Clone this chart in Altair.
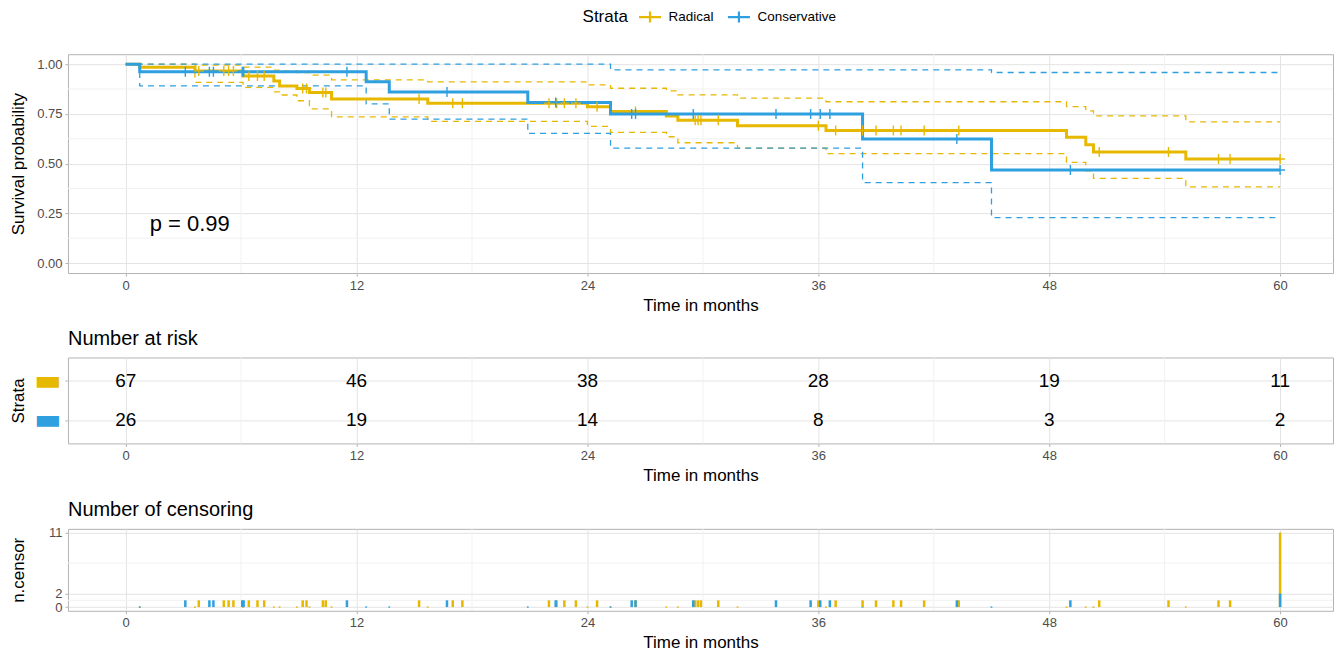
import altair as alt
import numpy as np
import pandas as pd

# ---------------- data ----------------
strata_names = ["Radical", "Conservative"]
strata_colors = ["#E7B800", "#2E9FDF"]

# Radical: step times and survival / confidence limits after each step
rad_time = [0, 0.73, 3.6, 6.1, 7.7, 8.0, 8.9, 9.55, 10.7, 15.7, 24.0, 25.2, 28.1, 28.7, 31.8, 36.4, 48.9, 49.9, 50.3, 55.1, 60]
rad_surv = [1.0, 0.985, 0.966, 0.94, 0.915, 0.89, 0.878, 0.858, 0.825, 0.804, 0.786, 0.762, 0.74, 0.718, 0.69, 0.666, 0.632, 0.595, 0.559, 0.523, 0.523]
rad_lower = [1.0, 0.961, 0.908, 0.883, 0.861, 0.845, 0.816, 0.775, 0.735, 0.712, 0.687, 0.657, 0.635, 0.605, 0.578, 0.55, 0.506, 0.464, 0.426, 0.383, 0.383]
rad_upper = [1.0, 1.0, 0.995, 0.985, 0.97, 0.965, 0.958, 0.945, 0.921, 0.911, 0.896, 0.879, 0.866, 0.846, 0.829, 0.811, 0.787, 0.765, 0.74, 0.71, 0.71]

# Conservative
con_time = [0, 0.73, 12.5, 13.7, 20.9, 25.2, 38.3, 45.0, 60]
con_surv = [1.0, 0.962, 0.911, 0.86, 0.807, 0.749, 0.624, 0.468, 0.468]
con_lower = [1.0, 0.891, 0.80, 0.724, 0.652, 0.578, 0.405, 0.229, 0.229]
con_upper = [1.0, 1.0, 1.0, 1.0, 1.0, 0.971, 0.971, 0.958, 0.958]

# censoring times and counts
rad_cens_time = [3.8, 5.1, 5.35, 5.6, 6.4, 6.85, 7.2, 9.2, 9.4, 10.25, 10.4, 15.25, 17.0, 17.5,
                 22.0, 22.4, 22.8, 23.4, 24.5, 26.5, 29.6, 29.75, 29.9, 30.8, 36.0, 36.9, 38.3,
                 39.0, 39.9, 40.3, 41.5, 43.3, 50.6, 54.2, 56.8, 57.4, 60]
rad_cens_n = [1, 1, 1, 1, 1, 1, 1, 1, 1, 1, 1, 1, 1, 1,
              1, 1, 1, 1, 1, 1, 1, 1, 1, 1, 1, 1, 1,
              1, 1, 1, 1, 1, 1, 1, 1, 1, 11]
con_cens_time = [3.1, 4.35, 4.56, 6.06, 6.13, 11.5, 16.7, 22.35, 26.3, 26.5, 29.5, 33.8, 35.6, 36.1, 36.6, 43.2, 49.1, 60]
con_cens_n = [1, 1, 1, 1, 1, 1, 1, 1, 1, 1, 1, 1, 1, 1, 1, 1, 1, 2]

# number at risk table
risk_times = [0, 12, 24, 36, 48, 60]
risk_rad = [67, 46, 38, 28, 19, 11]
risk_con = [26, 19, 14, 8, 3, 2]

pval_label = "p = 0.99"

x_major = [0, 12, 24, 36, 48, 60]
x_minor = [6, 18, 30, 42, 54]
y_major = [0, 0.25, 0.5, 0.75, 1.0]
y_minor = [0.125, 0.375, 0.625, 0.875]
c_major = [0, 2, 11]
c_minor = [1, 6.5]

# ---------------- styling ----------------
FONT = "Liberation Sans"
MAJOR = "#e3e3e3"
MINOR = "#f1f1f1"
BORDER = "#b3b3b3"
LAB = "#4d4d4d"
W = 1266

xscale = alt.Scale(domain=[-3, 62.75], nice=False, zero=False)
yscale = alt.Scale(domain=[-0.05, 1.05], nice=False, zero=False)
cyscale = alt.Scale(domain=[-0.55, 11.55], nice=False, zero=False)
cscale = alt.Scale(domain=strata_names, range=strata_colors)


def x_axis():
    return alt.Axis(values=x_major, title="Time in months", grid=True, gridColor=MAJOR, gridWidth=1,
                    domain=False, tickColor=BORDER, tickSize=3, labelFont=FONT, labelFontSize=13,
                    labelColor=LAB, labelPadding=3, titleFont=FONT, titleFontSize=17,
                    titleFontWeight="normal", titleColor="black", titlePadding=5)


def y_axis(values, title, **kw):
    args = dict(values=values, title=title, grid=True, gridColor=MAJOR, gridWidth=1, domain=False,
                tickColor=BORDER, tickSize=3, labelFont=FONT, labelFontSize=13, labelColor=LAB,
                labelPadding=3, titleFont=FONT, titleFontSize=17, titleFontWeight="normal",
                titleColor="black", titlePadding=9, minExtent=31, maxExtent=31)
    args.update(kw)
    return alt.Axis(**args)


legend = alt.Legend(orient="none", legendX=515, legendY=-47, direction="horizontal", title="Strata",
                    titleOrient="left", titleFont=FONT, titleFontSize=17, titleFontWeight="normal",
                    titleColor="black", titlePadding=12, labelFont=FONT, labelFontSize=13.5,
                    labelColor="black", labelOffset=9, columnPadding=9,
                    symbolType="M-1.375,0L1.375,0M0,-0.69L0,0.69", symbolSize=256, symbolStrokeWidth=2.2,
                    symbolFillColor="transparent")
color_top = alt.Color("strata:N", scale=cscale, legend=legend)
color_bot = alt.Color("strata:N", scale=cscale, legend=None)


def level_at(times, vals, t):
    idx = np.searchsorted(np.array(times), np.array(t), side="right") - 1
    return list(np.array(vals)[idx])


def curve_df(name, times, surv, lower, upper):
    return pd.DataFrame({"strata": name, "time": times, "surv": surv, "lower": lower, "upper": upper})


rad_df = curve_df("Radical", rad_time, rad_surv, rad_lower, rad_upper)
con_df = curve_df("Conservative", con_time, con_surv, con_lower, con_upper)
rad_cm = pd.DataFrame({"strata": "Radical", "time": rad_cens_time,
                       "surv": level_at(rad_time, rad_surv, rad_cens_time)})
con_cm = pd.DataFrame({"strata": "Conservative", "time": con_cens_time,
                       "surv": level_at(con_time, con_surv, con_cens_time)})

top_yaxis = y_axis(y_major, "Survival probability", format=".2f")

minor_x_top = alt.Chart(pd.DataFrame({"v": x_minor})).mark_rule(color=MINOR, strokeWidth=1).encode(
    x=alt.X("v:Q", scale=xscale, axis=x_axis()))
minor_y_top = alt.Chart(pd.DataFrame({"v": y_minor})).mark_rule(color=MINOR, strokeWidth=1).encode(
    y=alt.Y("v:Q", scale=yscale, axis=top_yaxis))


def ci_layer(df, field):
    return alt.Chart(df).mark_line(interpolate="step-after", strokeDash=[6, 5], strokeWidth=1.3).encode(
        x=alt.X("time:Q", scale=xscale, axis=x_axis()),
        y=alt.Y(f"{field}:Q", scale=yscale, axis=top_yaxis),
        color=color_top)


def surv_layer(df):
    return alt.Chart(df).mark_line(interpolate="step-after", strokeWidth=3).encode(
        x=alt.X("time:Q", scale=xscale, axis=x_axis()),
        y=alt.Y("surv:Q", scale=yscale, axis=top_yaxis),
        color=color_top)


def cens_layer(df):
    return alt.Chart(df).mark_point(shape="M-1,0L1,0M0,-1L0,1", size=100, filled=False,
                                    strokeWidth=1.4, opacity=1).encode(
        x=alt.X("time:Q", scale=xscale, axis=x_axis()),
        y=alt.Y("surv:Q", scale=yscale, axis=top_yaxis),
        color=color_top)


pval = alt.Chart(pd.DataFrame({"label": [pval_label]})).mark_text(
    align="left", baseline="middle", font=FONT, fontSize=22, color="black").encode(
    x=alt.XDatum(1.25, scale=xscale, axis=x_axis()),
    y=alt.YDatum(0.196, scale=yscale, axis=top_yaxis),
    text="label:N")

top = alt.layer(
    minor_x_top, minor_y_top,
    ci_layer(rad_df, "lower"), ci_layer(rad_df, "upper"),
    ci_layer(con_df, "lower"), ci_layer(con_df, "upper"),
    surv_layer(rad_df), surv_layer(con_df),
    cens_layer(rad_cm), cens_layer(con_cm),
    pval,
).properties(width=W, height=219)

# ---------------- risk table ----------------
risk_df = pd.DataFrame({
    "strata": ["Radical"] * len(risk_times) + ["Conservative"] * len(risk_times),
    "time": risk_times + risk_times,
    "n": risk_rad + risk_con,
})
mid_yaxis = y_axis(strata_names, "Strata", labelExpr="'\u25ac'", labelFont="DejaVu Sans", labelFontSize=29,
                   labelPadding=4,
                   labelColor={"condition": {"test": "datum.value === 'Radical'", "value": strata_colors[0]},
                               "value": strata_colors[1]})
minor_x_mid = alt.Chart(pd.DataFrame({"v": x_minor})).mark_rule(color=MINOR, strokeWidth=1).encode(
    x=alt.X("v:Q", scale=xscale, axis=x_axis()))
risk_text = alt.Chart(risk_df).mark_text(font=FONT, fontSize=19, color="black").encode(
    x=alt.X("time:Q", scale=xscale, axis=x_axis()),
    y=alt.Y("strata:N", sort=strata_names, scale=alt.Scale(domain=strata_names, padding=0.6), axis=mid_yaxis),
    text="n:Q")
mid = alt.layer(minor_x_mid, risk_text).properties(
    width=W, height=86,
    title=alt.TitleParams("Number at risk", anchor="start", frame="group", font=FONT, fontSize=20,
                          fontWeight="normal", color="black", offset=8))

# ---------------- censoring plot ----------------
cens_df = pd.concat([
    pd.DataFrame({"strata": "Radical", "time": rad_cens_time, "n": rad_cens_n}),
    pd.DataFrame({"strata": "Conservative", "time": con_cens_time, "n": con_cens_n}),
])
cens_df["base"] = 0
ev_df = pd.concat([
    pd.DataFrame({"strata": "Radical", "time": rad_time[1:-1]}),
    pd.DataFrame({"strata": "Conservative", "time": con_time[1:-1]}),
])
ev_df["n"] = 0

bot_yaxis = y_axis(c_major, "n.censor")
minor_x_bot = alt.Chart(pd.DataFrame({"v": x_minor})).mark_rule(color=MINOR, strokeWidth=1).encode(
    x=alt.X("v:Q", scale=xscale, axis=x_axis()))
minor_y_bot = alt.Chart(pd.DataFrame({"v": c_minor})).mark_rule(color=MINOR, strokeWidth=1).encode(
    y=alt.Y("v:Q", scale=cyscale, axis=bot_yaxis))


def bar_layer(name):
    return alt.Chart(cens_df[cens_df.strata == name]).mark_rule(strokeWidth=2.5).encode(
        x=alt.X("time:Q", scale=xscale, axis=x_axis()),
        y=alt.Y("n:Q", scale=cyscale, axis=bot_yaxis),
        y2="base:Q",
        color=color_bot)


ev_layer = alt.Chart(ev_df).mark_square(size=3, opacity=0.8).encode(
    x=alt.X("time:Q", scale=xscale, axis=x_axis()),
    y=alt.Y("n:Q", scale=cyscale, axis=bot_yaxis),
    color=color_bot)

bot = alt.layer(minor_x_bot, minor_y_bot, ev_layer, bar_layer("Radical"), bar_layer("Conservative")).properties(
    width=W, height=82,
    title=alt.TitleParams("Number of censoring", anchor="start", frame="group", font=FONT, fontSize=20,
                          fontWeight="normal", color="black", offset=7))

chart = alt.vconcat(top, mid, bot, spacing=14.5).resolve_scale(color="independent").properties(
    padding={"left": 1, "top": -2, "right": 0, "bottom": 0}
).configure_view(stroke=BORDER, strokeWidth=1)

chart.save("out.html", embed_options={"renderer": "svg", "actions": False})
